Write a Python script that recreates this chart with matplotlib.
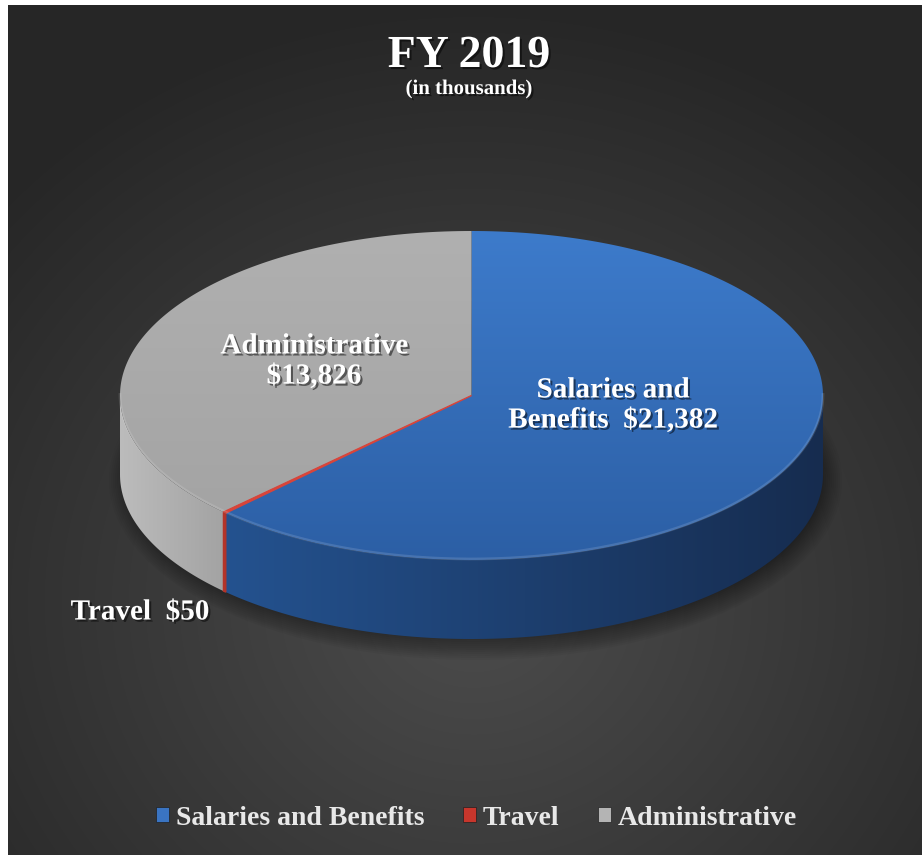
import numpy as np
import matplotlib
matplotlib.use("Agg")
import matplotlib.pyplot as plt
from matplotlib.patches import Polygon, Patch, Ellipse
from matplotlib.colors import LinearSegmentedColormap
import matplotlib.patheffects as pe

# ---------------- data ----------------
categories = ["Salaries and Benefits", "Travel", "Administrative"]
values = [21382, 50, 13826]
slice_labels = ["Salaries and\nBenefits  $21,382", "Travel  $50", "Administrative\n$13,826"]
title = "FY 2019"
subtitle = "(in thousands)"

# ---------------- styles ----------------
top_colors = [("#3d7bcb", "#2c5fa5"), ("#d8453b", "#b83228"), ("#b0b0b0", "#a4a4a4")]
side_colors = [("#24528f", "#162c4f"), ("#b3342a", "#8e241c"), ("#bcbcbc", "#a3a3a3")]
legend_colors = ["#3a74c2", "#c8362c", "#b4b4b4"]
serif = ["Liberation Serif", "DejaVu Serif"]

W, H = 923, 855
fig = plt.figure(figsize=(W / 100, H / 100), dpi=100, facecolor="white")
ax = fig.add_axes([0, 0, 1, 1])
ax.axis("off")

# ---------------- background ----------------
yy, xx = np.mgrid[0:H, 0:W]
r = np.hypot((xx - 470) / 650.0, (yy - 600) / 600.0)
lev = 0.30 - 0.15 * np.clip(r, 0, 1.0)
bg = np.dstack([lev, lev, lev])
ax.imshow(bg, extent=(8, 922, 855, 6), zorder=0, interpolation="bilinear")

# ---------------- geometry ----------------
cx, cy, a, b, depth = 471.5, 395.5, 351.5, 164.5, 79


def warp(t):
    return t + np.deg2rad(6.2) * np.sin(2 * t)


def pts(t, dy=0.0):
    p = warp(np.asarray(t))
    return np.column_stack([cx + a * np.sin(p), cy - b * np.cos(p) + dy])


def grad_fill(xy, c0, c1, direction="v", zorder=2):
    patch = Polygon(xy, closed=True, facecolor="none", edgecolor="none")
    ax.add_patch(patch)
    x0, x1 = xy[:, 0].min(), xy[:, 0].max()
    y0, y1 = xy[:, 1].min(), xy[:, 1].max()
    n = 256
    g = np.linspace(0, 1, n)[None, :] if direction == "h" else np.linspace(0, 1, n)[:, None]
    cmap = LinearSegmentedColormap.from_list("g", [c0, c1])
    im = ax.imshow(g, cmap=cmap, extent=(x0, x1 + 1e-6, y1 + 1e-6, y0), aspect="auto",
                   zorder=zorder, interpolation="bilinear")
    im.set_clip_path(patch)


total = float(sum(values))
bounds = np.concatenate([[0], np.cumsum(values)]) / total * 2 * np.pi

# soft shadow under the pie
for k in range(14):
    sh = Ellipse((cx + 4, cy + depth + 6), 2 * a + 30 - 4 * k, 2 * b + 30 - 4 * k,
                 facecolor="black", edgecolor="none", alpha=0.035, zorder=1)
    ax.add_patch(sh)

# side walls
for i in range(len(values)):
    lo = max(bounds[i], np.pi / 2)
    hi = min(bounds[i + 1], 3 * np.pi / 2)
    if lo < hi:
        t = np.linspace(lo, hi, 200)
        top = pts(t)
        bot = pts(t[::-1], depth)
        xy = np.vstack([top, bot])
        grad_fill(xy, side_colors[i][0], side_colors[i][1], direction="h", zorder=2)

# top faces
for i in range(len(values)):
    t = np.linspace(bounds[i], bounds[i + 1], max(3, int(400 * values[i] / total)))
    xy = np.vstack([[cx, cy], pts(t)])
    grad_fill(xy, top_colors[i][0], top_colors[i][1], direction="v", zorder=3)
    if values[i] / total < 0.01:
        ax.add_patch(Polygon(xy, closed=True, facecolor=top_colors[i][0],
                             edgecolor=top_colors[i][0], lw=1.0, zorder=4))
        tt = np.array([bounds[i], bounds[i + 1]])
        side = np.vstack([pts(tt), pts(tt[::-1], depth)])
        ax.add_patch(Polygon(side, closed=True, facecolor=side_colors[i][0],
                             edgecolor=side_colors[i][0], lw=1.0, zorder=4))

# subtle bevel on the front rim
tf = np.linspace(np.pi / 2, 3 * np.pi / 2, 300)
rim = pts(tf)
ax.plot(rim[:, 0], rim[:, 1] - 1, color="white", alpha=0.13, lw=2.0, zorder=5)

# ---------------- labels ----------------
shadow = [pe.withSimplePatchShadow(offset=(1.5, -1.5), shadow_rgbFace="black", alpha=0.5)]
label_pos = [(613, 405), (140, 612), (314, 361)]
for lab, (lx, ly) in zip(slice_labels, label_pos):
    ax.text(lx, ly, lab, ha="center", va="center", color="white", fontsize=21,
            fontweight="bold", family=serif, linespacing=1.15, zorder=10,
            path_effects=shadow)

ax.text(469, 56, title, ha="center", va="center", color="white", fontsize=33,
        fontweight="bold", family=serif, zorder=10, path_effects=shadow)
ax.text(469, 89, subtitle, ha="center", va="center", color="white", fontsize=15,
        fontweight="bold", family=serif, zorder=10, path_effects=shadow)

# ---------------- legend ----------------
handles = [Patch(facecolor=c, edgecolor="#202020", lw=0.5) for c in legend_colors]
leg = ax.legend(handles, categories, loc="center", bbox_to_anchor=(476.5, 818),
                bbox_transform=ax.transData, ncol=3, frameon=False,
                handlelength=0.45, handleheight=0.45, handletextpad=0.25,
                columnspacing=1.4,
                prop={"family": serif, "weight": "bold", "size": 20})
for txt in leg.get_texts():
    txt.set_color("#e8e8e8")

ax.set_xlim(0, W)
ax.set_ylim(H, 0)
fig.savefig("out.png", dpi=100, facecolor="white")
